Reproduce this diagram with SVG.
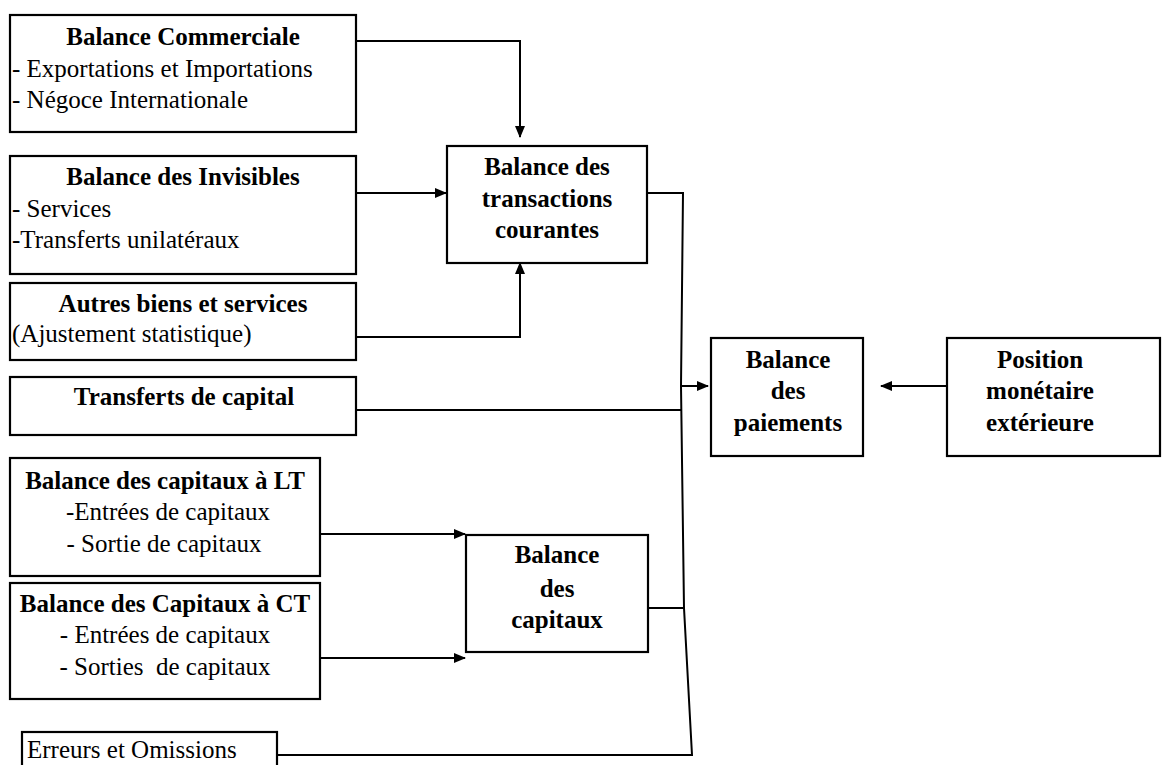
<svg xmlns="http://www.w3.org/2000/svg" width="1163" height="765" viewBox="0 0 1163 765">
<defs>
<marker id="ah" markerUnits="userSpaceOnUse" markerWidth="12" markerHeight="12" viewBox="0 0 12 12" refX="11" refY="6" orient="auto">
<path d="M0,1 L12,6 L0,11 Z" fill="#000"/>
</marker>
</defs>
<rect width="1163" height="765" fill="#fff"/>
<g id="connectors" fill="none" stroke="#000" stroke-width="2">
<polyline points="356,41 520,41 520,137" marker-end="url(#ah)"/>
<line x1="356" y1="193" x2="446" y2="193" marker-end="url(#ah)"/>
<polyline points="356,337 520,337 520,263" marker-end="url(#ah)"/>
<polyline points="647,193 683,193 681,386 684,608 692,755 277,755"/>
<line x1="356" y1="410" x2="681" y2="410"/>
<line x1="680" y1="386" x2="708" y2="386" marker-end="url(#ah)"/>
<line x1="648" y1="608" x2="684" y2="608"/>
<line x1="947" y1="386" x2="881" y2="386" marker-end="url(#ah)"/>
<line x1="320" y1="534" x2="465" y2="534" marker-end="url(#ah)"/>
<line x1="320" y1="658" x2="465" y2="658" marker-end="url(#ah)"/>
</g>
<g id="nodes" font-family="Liberation Serif" font-size="25">
<g id="balance-commerciale">
<rect x="10" y="15" width="346" height="117" fill="#fff" stroke="#000" stroke-width="2.2"/>
<text font-weight="bold" text-anchor="middle" x="183" y="45">Balance Commerciale</text>
<text x="12" y="77">- Exportations et Importations</text>
<text x="12" y="108">- Négoce Internationale</text>
</g>
<g id="balance-invisibles">
<rect x="10" y="156" width="346" height="118" fill="#fff" stroke="#000" stroke-width="2.2"/>
<text font-weight="bold" text-anchor="middle" x="183" y="185">Balance des Invisibles</text>
<text x="12" y="217">- Services</text>
<text x="12" y="248">-Transferts unilatéraux</text>
</g>
<g id="autres-biens">
<rect x="10" y="283" width="346" height="77" fill="#fff" stroke="#000" stroke-width="2.2"/>
<text font-weight="bold" text-anchor="middle" x="183" y="312">Autres biens et services</text>
<text x="12" y="342">(Ajustement statistique)</text>
</g>
<g id="transferts-capital">
<rect x="10" y="377" width="346" height="58" fill="#fff" stroke="#000" stroke-width="2.2"/>
<text font-weight="bold" text-anchor="middle" x="184" y="405">Transferts de capital</text>
</g>
<g id="capitaux-lt">
<rect x="10" y="458" width="310" height="118" fill="#fff" stroke="#000" stroke-width="2.2"/>
<text font-weight="bold" text-anchor="middle" x="165" y="489">Balance des capitaux à LT</text>
<text text-anchor="middle" x="168" y="520">-Entrées de capitaux</text>
<text text-anchor="middle" x="164" y="552">- Sortie de capitaux</text>
</g>
<g id="capitaux-ct">
<rect x="10" y="583" width="310" height="116" fill="#fff" stroke="#000" stroke-width="2.2"/>
<text font-weight="bold" text-anchor="middle" x="165" y="612">Balance des Capitaux à CT</text>
<text text-anchor="middle" x="165" y="643">- Entrées de capitaux</text>
<text text-anchor="middle" x="165" y="675" xml:space="preserve">- Sorties  de capitaux</text>
</g>
<g id="erreurs">
<rect x="22" y="732" width="255" height="40" fill="#fff" stroke="#000" stroke-width="2.2"/>
<text x="27" y="758">Erreurs et Omissions</text>
</g>
<g id="transactions-courantes" font-weight="bold" text-anchor="middle">
<rect x="447" y="146" width="200" height="117" fill="#fff" stroke="#000" stroke-width="2.2"/>
<text x="547" y="175">Balance des</text>
<text x="547" y="207">transactions</text>
<text x="547" y="238">courantes</text>
</g>
<g id="balance-paiements" font-weight="bold" text-anchor="middle">
<rect x="711" y="338" width="152" height="118" fill="#fff" stroke="#000" stroke-width="2.2"/>
<text x="788" y="368">Balance</text>
<text x="788" y="399">des</text>
<text x="788" y="431">paiements</text>
</g>
<g id="position-monetaire" font-weight="bold" text-anchor="middle">
<rect x="947" y="338" width="213" height="118" fill="#fff" stroke="#000" stroke-width="2.2"/>
<text x="1040" y="368">Position</text>
<text x="1040" y="399">monétaire</text>
<text x="1040" y="431">extérieure</text>
</g>
<g id="balance-capitaux" font-weight="bold" text-anchor="middle">
<rect x="466" y="535" width="182" height="117" fill="#fff" stroke="#000" stroke-width="2.2"/>
<text x="557" y="563">Balance</text>
<text x="557" y="597">des</text>
<text x="557" y="628">capitaux</text>
</g>
</g>
</svg>
